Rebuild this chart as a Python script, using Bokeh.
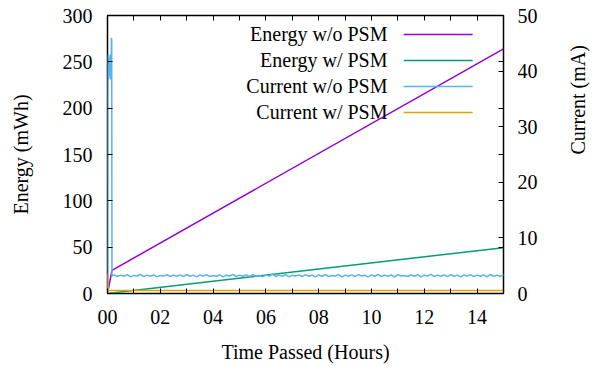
import math
from bokeh.plotting import figure
from bokeh.models import Range1d, LinearAxis, FixedTicker, Label
from bokeh.embed import file_html
from bokeh.resources import INLINE

FONT = "Liberation Serif"
FS = "20px"

# ---------------- data ----------------
X_MAX = 15
E_MAX = 300
I_MAX = 50

X_MAJOR = [0, 2, 4, 6, 8, 10, 12, 14]
X_MINOR = [1, 3, 5, 7, 9, 11, 13, 15]
X_LABELS = {0: "00", 2: "02", 4: "04", 6: "06", 8: "08", 10: "10", 12: "12", 14: "14"}
E_TICKS = [0, 50, 100, 150, 200, 250, 300]
I_TICKS = [0, 10, 20, 30, 40, 50]

SERIES_NAMES = ["Energy w/o PSM", "Energy w/ PSM", "Current w/o PSM", "Current w/ PSM"]
SERIES_COLORS = ["#9400d3", "#009e73", "#56b4e9", "#e69f00"]

t_energy_nopsm = [0.0, 0.17, 15.0]
energy_nopsm = [0.0, 25.0, 264.0]

t_energy_psm = [0.0, 15.0]
energy_psm = [0.0, 49.5]

# initial spike of the current without PSM
t_cur_spike = [0.0, 0.005, 0.02, 0.04, 0.06, 0.08, 0.10, 0.12, 0.14, 0.15, 0.16, 0.17]
cur_spike = [0.0, 40.0, 43.0, 38.5, 42.5, 39.0, 43.0, 38.5, 41.0, 46.0, 45.5, 3.2]
# steady, noisy part of the current without PSM (one reading every 0.125 h)
cur_steady = [
    3.35, 3.05, 3.30, 3.10, 3.40, 3.00, 3.25, 3.15, 3.45, 3.05, 3.30, 3.10,
    3.35, 3.00, 3.25, 3.15, 3.40, 3.05, 3.30, 3.10, 3.35, 3.05, 3.45, 3.10,
    3.30, 3.00, 3.35, 3.15, 3.40, 3.05, 3.25, 3.10, 3.35, 3.00, 3.30, 3.15,
    3.45, 3.05, 3.30, 3.10, 3.35, 3.05, 3.40, 3.10, 3.25, 3.00, 3.35, 3.15,
    3.50, 3.05, 3.30, 3.10, 3.40, 3.00, 3.30, 3.15, 3.35, 3.05, 3.40, 3.10,
    3.30, 3.00, 3.35, 3.10, 3.45, 3.05, 3.25, 3.15, 3.40, 3.00, 3.30, 3.10,
    3.35, 3.05, 3.40, 3.15, 3.30, 3.00, 3.35, 3.10, 3.45, 3.05, 3.30, 3.10,
    3.35, 3.00, 3.40, 3.15, 3.25, 3.05, 3.35, 3.10, 3.40, 3.00, 3.30, 3.15,
    3.45, 3.05, 3.30, 3.10, 3.35, 3.05, 3.40, 3.10, 3.30, 3.00, 3.35, 3.15,
    3.40, 3.05, 3.30, 3.10, 3.35, 3.00, 3.45, 3.10, 3.30, 3.05, 3.35, 3.15,
]
T_STEP = 0.125
t_cur_steady = [0.25 + T_STEP * i for i in range(len(cur_steady))]
t_cur_nopsm = t_cur_spike + t_cur_steady
cur_nopsm = cur_spike + cur_steady

t_cur_psm = [0.0, 0.01, 0.02, 15.0]
cur_psm = [0.0, 3.6, 0.55, 0.55]

# ---------------- figure ----------------
p = figure(width=604, height=371, output_backend="svg", toolbar_location=None,
           x_range=Range1d(0, X_MAX), y_range=Range1d(0, E_MAX),
           min_border_left=107, min_border_right=101, min_border_top=15, min_border_bottom=78)
p.extra_y_ranges = {"cur": Range1d(0, I_MAX)}
p.xgrid.visible = False
p.ygrid.visible = False
p.outline_line_color = "black"
p.outline_line_width = 1.5
p.background_fill_color = "white"
p.border_fill_color = "white"


def style_axis(ax):
    ax.axis_line_color = None
    ax.major_tick_in = 5
    ax.major_tick_out = 0
    ax.minor_tick_in = 5
    ax.minor_tick_out = 0
    ax.major_tick_line_color = "black"
    ax.minor_tick_line_color = "black"
    ax.major_label_text_font = FONT
    ax.major_label_text_font_size = FS
    ax.major_label_text_color = "black"
    ax.axis_label_text_font = FONT
    ax.axis_label_text_font_size = FS
    ax.axis_label_text_font_style = "normal"
    ax.axis_label_text_color = "black"
    ax.major_label_standoff = 14


xa = p.xaxis[0]
xa.ticker = FixedTicker(ticks=X_MAJOR, minor_ticks=X_MINOR)
xa.major_label_overrides = X_LABELS
xa.axis_label = "Time Passed (Hours)"
style_axis(xa)
xa.major_label_standoff = 16
xa.axis_label_standoff = 14

ya = p.yaxis[0]
ya.ticker = FixedTicker(ticks=E_TICKS, minor_ticks=[])
ya.axis_label = "Energy (mWh)"
style_axis(ya)
ya.major_label_standoff = 15
ya.axis_label_standoff = 28

ra = LinearAxis(y_range_name="cur",
                ticker=FixedTicker(ticks=I_TICKS,
                                   minor_ticks=[e * I_MAX / E_MAX for e in E_TICKS]),
                axis_label="Current (mA)")
style_axis(ra)
ra.axis_label_standoff = 37
ra.axis_label_orientation = math.pi / 2
p.add_layout(ra, "right")

ta = LinearAxis(ticker=FixedTicker(ticks=X_MAJOR, minor_ticks=X_MINOR))
style_axis(ta)
ta.major_label_overrides = {t: "" for t in X_MAJOR}
ta.major_label_text_font_size = "1px"
ta.major_label_standoff = 0
p.add_layout(ta, "above")

# ---------------- series ----------------
LW = 1.5
p.line(t_energy_nopsm, energy_nopsm, line_color=SERIES_COLORS[0], line_width=LW)
p.line(t_energy_psm, energy_psm, line_color=SERIES_COLORS[1], line_width=LW)
p.line(t_cur_nopsm, cur_nopsm, line_color=SERIES_COLORS[2], line_width=LW, y_range_name="cur")
p.line(t_cur_psm, cur_psm, line_color=SERIES_COLORS[3], line_width=LW, y_range_name="cur")

# ---------------- legend (text left of sample, gnuplot style) ----------------
leg_text_x = X_MAX * 0.707
leg_x0 = X_MAX * 0.748
leg_x1 = X_MAX * 0.922
leg_y0 = E_MAX * 0.932
leg_dy = E_MAX * 0.0935
for i, (name, col) in enumerate(zip(SERIES_NAMES, SERIES_COLORS)):
    yy = leg_y0 - i * leg_dy
    p.add_layout(Label(x=leg_text_x, y=yy, text=name, text_align="right",
                       text_baseline="middle", text_font=FONT, text_font_size=FS,
                       text_color="black"))
    p.segment(x0=[leg_x0], y0=[yy], x1=[leg_x1], y1=[yy], line_color=col, line_width=LW)

open("out.html", "w").write(file_html(p, INLINE))
